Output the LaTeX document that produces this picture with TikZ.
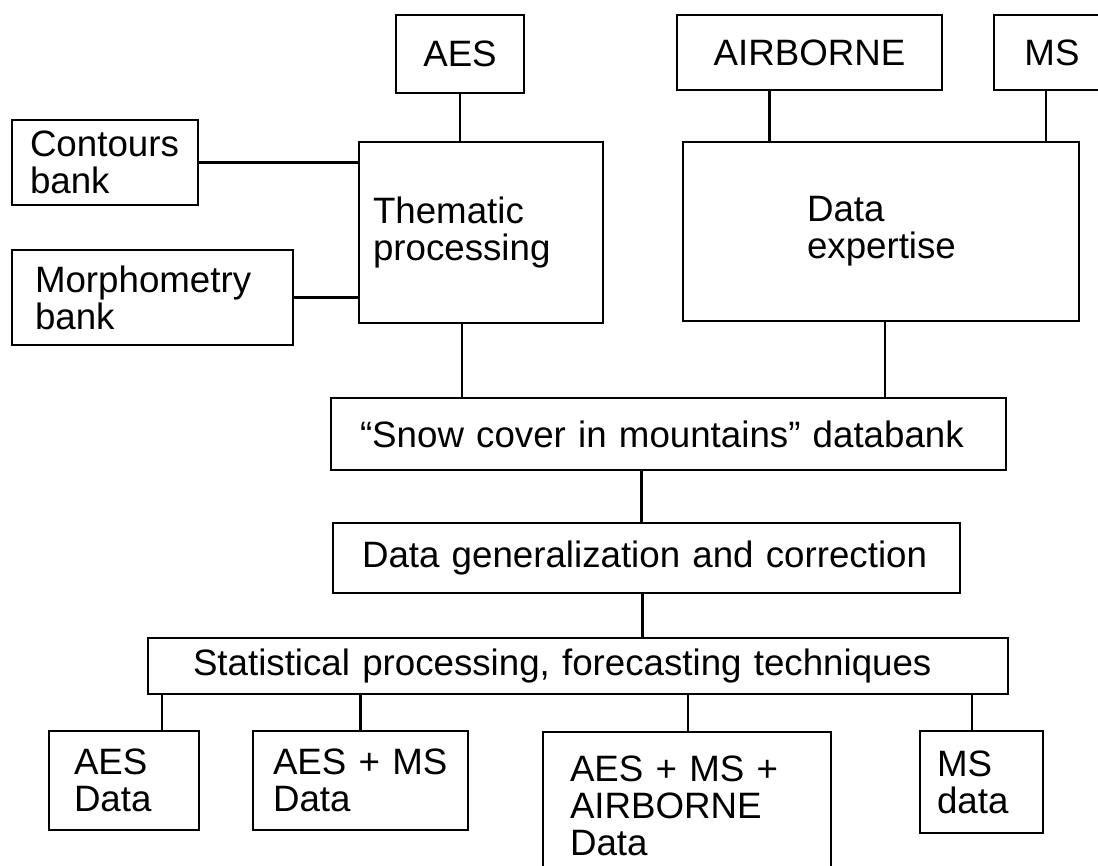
\documentclass[tikz,border=0pt]{standalone}
\usepackage{fontspec}
\usepackage{tikz}
\usetikzlibrary{positioning,calc}
\newfontfamily\diagfont{Liberation Sans}

\begin{document}
\begin{tikzpicture}[x=1pt,y=-1pt,
  font=\diagfont\fontsize{36.7pt}{37pt}\selectfont,
  blk/.style={draw,line width=1.1pt,inner ysep=0pt,align=left},
  link/.style={line width=2.4pt}]
  \useasboundingbox (0,0) rectangle (1098,866);
  % sources
  \node[blk,align=center,minimum width=128pt,minimum height=78pt] (aes) at (460,54) {AES};
  \node[blk,align=center,minimum width=265pt,minimum height=75pt] (airborne) at (809.5,52.5) {AIRBORNE};
  \node[blk,align=center,minimum width=116pt,minimum height=75pt] (ms) at (1052,52.5) {MS};
  % banks
  \node[blk,text width=150pt,inner xsep=18pt,minimum height=85pt] (contours) at (105,162.5) {Contours\\bank};
  \node[blk,text width=235pt,inner xsep=23pt,minimum height=95pt] (morph) at (152.5,297.5) {Morphometry\\bank};
  % processing
  \node[blk,text width=216pt,inner xsep=14pt,minimum height=181pt] (thematic) at (481,232.5) {Thematic\\processing};
  \node[blk,text width=148pt,inner xsep=124pt,minimum height=179pt] (expertise) at (881,231.5) {Data\\expertise};
  \node[blk,text width=617pt,inner xsep=29pt,minimum height=72pt] (snow) at (668.5,434) {“Snow cover in mountains” databank};
  \node[blk,text width=569pt,inner xsep=29pt,minimum height=70pt] (gen) at (646.5,558) {Data generalization and correction};
  \node[blk,text width=770pt,inner xsep=45pt,minimum height=56pt] (stat) at (578,666) {Statistical processing, forecasting techniques};
  % outputs
  \node[blk,text width=100pt,inner xsep=25pt,minimum height=99pt] (aesdata) at (124,780.5) {AES\\Data};
  \node[blk,text width=175pt,inner xsep=20pt,minimum height=99pt] (aesms) at (360.5,780.5) {AES + MS\\Data};
  \node[blk,text width=234pt,inner xsep=27pt,minimum height=148pt] (alldata) at (687,806) {AES + MS +\\AIRBORNE\\Data};
  \node[blk,text width=89pt,inner xsep=17pt,minimum height=102pt] (msdata) at (981.5,782) {MS\\data};
  % links into the processing boxes
  \draw[link] (aes.south) -- (aes.south |- thematic.north);
  \draw[link] ([xshift=-40pt]airborne.south) -- ([xshift=-40pt]airborne.south |- expertise.north);
  \draw[link] ([xshift=-6pt]ms.south) -- ([xshift=-6pt]ms.south |- expertise.north);
  \draw[link] (contours.east) -- (contours.east -| thematic.west);
  \draw[link] (morph.east) -- (morph.east -| thematic.west);
  % down the chain
  \draw[link] ([xshift=-19pt]thematic.south) -- ([xshift=-19pt]thematic.south |- snow.north);
  \draw[link] ([xshift=4pt]expertise.south) -- ([xshift=4pt]expertise.south |- snow.north);
  \draw[link] ([xshift=-5pt]gen.north) -- ([xshift=-5pt]gen.north |- snow.south);
  \draw[link] ([xshift=-4pt]gen.south) -- ([xshift=-4pt]gen.south |- stat.north);
  \foreach \bx/\dx in {aesdata/38pt, aesms/0pt, alldata/1pt, msdata/-9.5pt}
    \draw[link] ([xshift=\dx]\bx.north) -- ([xshift=\dx]\bx.north |- stat.south);
\end{tikzpicture}
\end{document}
